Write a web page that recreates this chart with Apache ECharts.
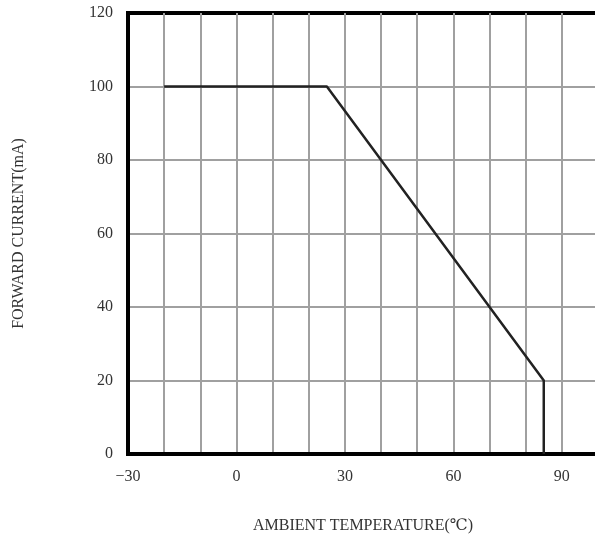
<!DOCTYPE html>
<html>
<head>
<meta charset="utf-8">
<script src="https://cdn.jsdelivr.net/npm/echarts@6/dist/echarts.min.js"></script>
<style>
  html, body { margin: 0; padding: 0; background: #fff; }
  #chart { width: 595px; height: 539px; }
</style>
</head>
<body>
<div id="chart"></div>
<script>
// derating curve: ambient temperature (C) vs forward current (mA)
const temps = [-20, 25, 85, 85];
const currents = [100, 100, 20, 0];
const xTicks = [-30, 0, 30, 60, 90];

const chart = echarts.init(document.getElementById('chart'), null, { renderer: 'canvas' });
const font = '"Liberation Serif", "DejaVu Serif", serif';

chart.setOption({
  animation: false,
  grid: {
    left: 128, top: 13, width: 470, height: 441,
    outerBoundsMode: 'none', containLabel: false,
    show: true, borderColor: '#000', borderWidth: 4
  },
  xAxis: {
    type: 'value',
    min: -30, max: 100, interval: 10,
    name: 'AMBIENT TEMPERATURE(℃)',
    nameLocation: 'middle', nameGap: 64,
    nameTextStyle: { fontFamily: font, fontSize: 16, color: '#333' },
    axisLine: { onZero: false, lineStyle: { color: '#000', width: 4 } },
    axisTick: { show: false },
    axisLabel: {
      fontFamily: font, fontSize: 16, color: '#333', margin: 15,
      formatter: v => xTicks.includes(v) ? String(v).replace('-', '\u2212') : ''
    },
    splitLine: { show: true, showMinLine: false, showMaxLine: false,
      lineStyle: { color: '#a0a0a0', width: 2 } }
  },
  yAxis: {
    type: 'value',
    min: 0, max: 120, interval: 20,
    name: 'FORWARD CURRENT(mA)',
    nameLocation: 'middle', nameGap: 101,
    nameTextStyle: { fontFamily: font, fontSize: 16, color: '#333' },
    axisLine: { onZero: false, lineStyle: { color: '#000', width: 4 } },
    axisTick: { show: false },
    axisLabel: { fontFamily: font, fontSize: 16, color: '#333', margin: 15 },
    splitLine: { show: true, showMinLine: false, showMaxLine: false,
      lineStyle: { color: '#a0a0a0', width: 2 } }
  },
  series: [{
    type: 'line',
    data: temps.map((t, i) => [t, currents[i]]),
    showSymbol: false,
    lineStyle: { color: '#222', width: 2.5 }
  }]
});
</script>
</body>
</html>
